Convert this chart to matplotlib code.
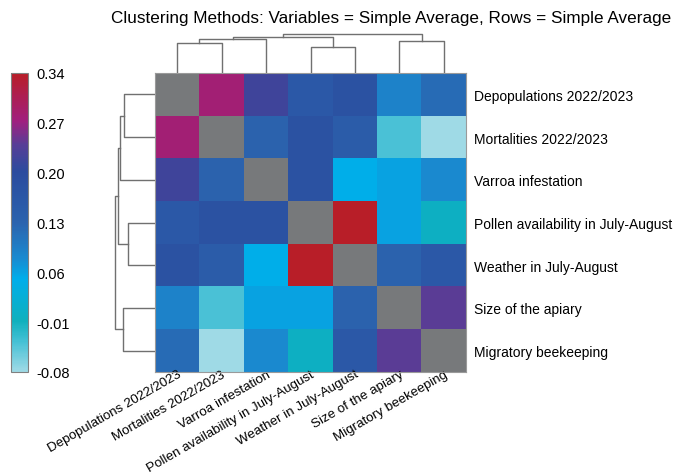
import matplotlib
matplotlib.use('Agg')
import matplotlib.pyplot as plt
import numpy as np
from matplotlib.colors import LinearSegmentedColormap

plt.rcParams['font.family'] = ['Liberation Sans', 'DejaVu Sans']

# variables (same order for rows and columns)
variables = ["Depopulations 2022/2023", "Mortalities 2022/2023", "Varroa infestation",
             "Pollen availability in July-August", "Weather in July-August",
             "Size of the apiary", "Migratory beekeeping"]

# upper triangle of the correlation matrix, row by row
corr_depop = [0.28, 0.22, 0.16, 0.18, 0.09, 0.12]
corr_mort = [0.13, 0.18, 0.15, -0.04, -0.08]
corr_varroa = [0.18, 0.05, 0.06, 0.08]
corr_pollen = [0.34, 0.06, 0.00]
corr_weather = [0.13, 0.16]
corr_size = [0.24]

# average-linkage merges: (left id, right id, distance); ids >= 7 are clusters
merges = [(3, 4, 0.66), (0, 1, 0.76), (5, 6, 0.79),
          (8, 2, 0.85), (10, 7, 0.90), (11, 9, 0.97)]

cbar_ticks = [-0.08, -0.01, 0.06, 0.13, 0.20, 0.27, 0.34]


def build_matrix():
    n = len(variables)
    m = np.full((n, n), np.nan)
    upper = [corr_depop, corr_mort, corr_varroa, corr_pollen, corr_weather, corr_size]
    for i, row in enumerate(upper):
        for k, v in enumerate(row):
            j = i + 1 + k
            m[i, j] = v
            m[j, i] = v
    return m


def draw_dendro(ax, orient):
    n = len(variables)
    pos = {i: float(i) for i in range(n)}
    hgt = {i: 0.0 for i in range(n)}
    for k, (a, b, h) in enumerate(merges):
        xs = [pos[a], pos[a], pos[b], pos[b]]
        ys = [hgt[a], h, h, hgt[b]]
        if orient == 'top':
            ax.plot(xs, ys, color='#707070', lw=1.0)
        else:
            ax.plot(ys, xs, color='#707070', lw=1.0)
        pos[n + k] = (pos[a] + pos[b]) / 2
        hgt[n + k] = h
    ax.set_axis_off()


mat = build_matrix()

cmap = LinearSegmentedColormap.from_list('hm', [
    (0.00, '#9fdae6'),
    (0.10, '#45c0d5'),
    (0.17, '#0fb0bd'),
    (0.31, '#00aeea'),
    (0.38, '#1a8ad0'),
    (0.50, '#2b63ae'),
    (0.67, '#2b4b9e'),
    (0.76, '#563e97'),
    (0.84, '#a0207f'),
    (1.00, '#b81e28'),
])
cmap.set_bad('#77797b')

fig = plt.figure(figsize=(6.81, 4.77), dpi=100)
W, H = 681.0, 477.0
hm_l, hm_r, hm_t, hm_b = 155, 466, 74, 373

ax = fig.add_axes([hm_l / W, 1 - hm_b / H, (hm_r - hm_l) / W, (hm_b - hm_t) / H])
im = ax.imshow(np.ma.masked_invalid(mat), cmap=cmap, vmin=-0.08, vmax=0.34,
               aspect='auto', interpolation='nearest')
ax.set_xticks(range(len(variables)))
ax.set_xticklabels(variables, rotation=30, ha='right', rotation_mode='anchor', fontsize=9.6)
ax.set_yticks(range(len(variables)))
ax.set_yticklabels(variables, fontsize=10)
ax.yaxis.tick_right()
ax.tick_params(length=0, pad=6)
ax.tick_params(axis='x', pad=-3)
for s in ax.spines.values():
    s.set_color('#9a9a9a')
    s.set_linewidth(0.8)

# column dendrogram
axt = fig.add_axes([hm_l / W, 1 - hm_t / H, (hm_r - hm_l) / W, 40 / H])
draw_dendro(axt, 'top')
axt.set_xlim(-0.5, len(variables) - 0.5)
axt.set_ylim(0, 1.0)

# row dendrogram
axl = fig.add_axes([(hm_l - 41) / W, 1 - hm_b / H, 41 / W, (hm_b - hm_t) / H])
draw_dendro(axl, 'left')
axl.set_ylim(len(variables) - 0.5, -0.5)
axl.set_xlim(1.0, 0)

# colour bar
cax = fig.add_axes([11 / W, 1 - hm_b / H, 17 / W, (hm_b - hm_t) / H])
cb = fig.colorbar(im, cax=cax, ticks=cbar_ticks)
cb.ax.set_yticklabels(['%.2f' % t for t in cbar_ticks], fontsize=10.5)
cb.ax.tick_params(length=0, pad=6)
cb.outline.set_edgecolor('#808080')
cb.outline.set_linewidth(0.8)

fig.text(391 / W, 1 - 18 / H,
         'Clustering Methods: Variables = Simple Average, Rows = Simple Average',
         ha='center', va='center', fontsize=12.3)

fig.savefig('out.png', dpi=100)
